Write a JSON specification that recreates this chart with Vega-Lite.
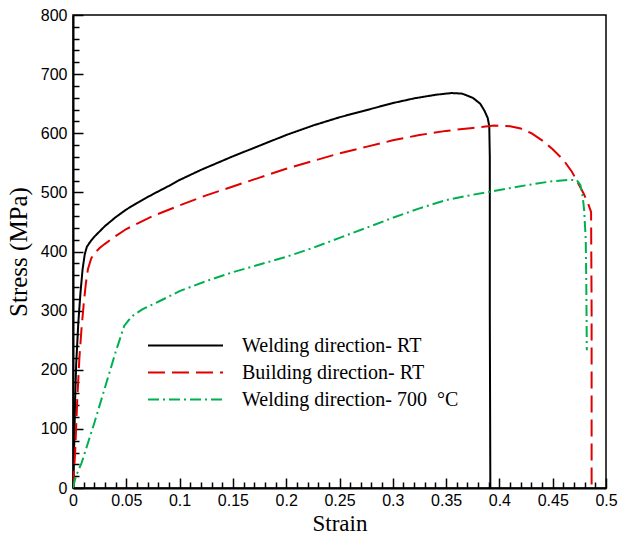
{
  "$schema": "https://vega.github.io/schema/vega-lite/v6.json",
  "width": 533,
  "height": 473,
  "autosize": "none",
  "padding": {"left": 73, "top": 15, "right": 13, "bottom": 52},
  "background": "white",
  "config": {
    "view": {"stroke": "black", "strokeWidth": 1.5},
    "axis": {"grid": false, "domainColor": "black", "domainWidth": 2, "tickColor": "black", "labelColor": "black", "titleColor": "black", "labelFont": "Liberation Sans", "labelFontSize": 16, "titleFont": "Liberation Serif", "titleFontSize": 23, "titleFontWeight": "normal"}
  },
  "data": {"values": [
    {"series": "Welding direction- RT", "strain": 0, "stress": 0},
    {"series": "Welding direction- RT", "strain": 0.001, "stress": 60},
    {"series": "Welding direction- RT", "strain": 0.002, "stress": 150},
    {"series": "Welding direction- RT", "strain": 0.003, "stress": 210},
    {"series": "Welding direction- RT", "strain": 0.005, "stress": 280},
    {"series": "Welding direction- RT", "strain": 0.007, "stress": 330},
    {"series": "Welding direction- RT", "strain": 0.009, "stress": 370},
    {"series": "Welding direction- RT", "strain": 0.011, "stress": 395},
    {"series": "Welding direction- RT", "strain": 0.013, "stress": 408},
    {"series": "Welding direction- RT", "strain": 0.016, "stress": 416},
    {"series": "Welding direction- RT", "strain": 0.02, "stress": 425},
    {"series": "Welding direction- RT", "strain": 0.025, "stress": 434},
    {"series": "Welding direction- RT", "strain": 0.03, "stress": 443},
    {"series": "Welding direction- RT", "strain": 0.04, "stress": 458},
    {"series": "Welding direction- RT", "strain": 0.05, "stress": 471},
    {"series": "Welding direction- RT", "strain": 0.06, "stress": 482},
    {"series": "Welding direction- RT", "strain": 0.075, "stress": 497},
    {"series": "Welding direction- RT", "strain": 0.09, "stress": 511},
    {"series": "Welding direction- RT", "strain": 0.1, "stress": 521},
    {"series": "Welding direction- RT", "strain": 0.12, "stress": 538},
    {"series": "Welding direction- RT", "strain": 0.15, "stress": 561},
    {"series": "Welding direction- RT", "strain": 0.175, "stress": 579},
    {"series": "Welding direction- RT", "strain": 0.2, "stress": 597},
    {"series": "Welding direction- RT", "strain": 0.225, "stress": 613},
    {"series": "Welding direction- RT", "strain": 0.25, "stress": 627},
    {"series": "Welding direction- RT", "strain": 0.275, "stress": 639},
    {"series": "Welding direction- RT", "strain": 0.3, "stress": 651},
    {"series": "Welding direction- RT", "strain": 0.32, "stress": 659},
    {"series": "Welding direction- RT", "strain": 0.34, "stress": 665},
    {"series": "Welding direction- RT", "strain": 0.355, "stress": 668},
    {"series": "Welding direction- RT", "strain": 0.365, "stress": 667},
    {"series": "Welding direction- RT", "strain": 0.375, "stress": 660},
    {"series": "Welding direction- RT", "strain": 0.382, "stress": 650},
    {"series": "Welding direction- RT", "strain": 0.386, "stress": 638},
    {"series": "Welding direction- RT", "strain": 0.389, "stress": 626},
    {"series": "Welding direction- RT", "strain": 0.3905, "stress": 612},
    {"series": "Welding direction- RT", "strain": 0.391, "stress": 560},
    {"series": "Welding direction- RT", "strain": 0.391, "stress": 300},
    {"series": "Welding direction- RT", "strain": 0.3915, "stress": 0},

    {"series": "Building direction- RT", "strain": 0, "stress": 0},
    {"series": "Building direction- RT", "strain": 0.002, "stress": 60},
    {"series": "Building direction- RT", "strain": 0.004, "stress": 150},
    {"series": "Building direction- RT", "strain": 0.006, "stress": 220},
    {"series": "Building direction- RT", "strain": 0.008, "stress": 270},
    {"series": "Building direction- RT", "strain": 0.01, "stress": 310},
    {"series": "Building direction- RT", "strain": 0.012, "stress": 345},
    {"series": "Building direction- RT", "strain": 0.014, "stress": 370},
    {"series": "Building direction- RT", "strain": 0.017, "stress": 388},
    {"series": "Building direction- RT", "strain": 0.02, "stress": 397},
    {"series": "Building direction- RT", "strain": 0.025, "stress": 406},
    {"series": "Building direction- RT", "strain": 0.03, "stress": 413},
    {"series": "Building direction- RT", "strain": 0.04, "stress": 426},
    {"series": "Building direction- RT", "strain": 0.05, "stress": 438},
    {"series": "Building direction- RT", "strain": 0.075, "stress": 460},
    {"series": "Building direction- RT", "strain": 0.1, "stress": 478},
    {"series": "Building direction- RT", "strain": 0.125, "stress": 495},
    {"series": "Building direction- RT", "strain": 0.15, "stress": 510},
    {"series": "Building direction- RT", "strain": 0.175, "stress": 525},
    {"series": "Building direction- RT", "strain": 0.2, "stress": 540},
    {"series": "Building direction- RT", "strain": 0.225, "stress": 553},
    {"series": "Building direction- RT", "strain": 0.25, "stress": 566},
    {"series": "Building direction- RT", "strain": 0.275, "stress": 577},
    {"series": "Building direction- RT", "strain": 0.3, "stress": 588},
    {"series": "Building direction- RT", "strain": 0.325, "stress": 597},
    {"series": "Building direction- RT", "strain": 0.35, "stress": 604},
    {"series": "Building direction- RT", "strain": 0.375, "stress": 609},
    {"series": "Building direction- RT", "strain": 0.395, "stress": 613},
    {"series": "Building direction- RT", "strain": 0.41, "stress": 612},
    {"series": "Building direction- RT", "strain": 0.42, "stress": 608},
    {"series": "Building direction- RT", "strain": 0.43, "stress": 600},
    {"series": "Building direction- RT", "strain": 0.44, "stress": 588},
    {"series": "Building direction- RT", "strain": 0.45, "stress": 573},
    {"series": "Building direction- RT", "strain": 0.46, "stress": 555},
    {"series": "Building direction- RT", "strain": 0.468, "stress": 535},
    {"series": "Building direction- RT", "strain": 0.474, "stress": 515},
    {"series": "Building direction- RT", "strain": 0.479, "stress": 498},
    {"series": "Building direction- RT", "strain": 0.483, "stress": 482},
    {"series": "Building direction- RT", "strain": 0.486, "stress": 467},
    {"series": "Building direction- RT", "strain": 0.4865, "stress": 300},
    {"series": "Building direction- RT", "strain": 0.4865, "stress": 0},

    {"series": "Welding direction- 700\u00a0 °C", "strain": 0, "stress": 0},
    {"series": "Welding direction- 700\u00a0 °C", "strain": 0.002, "stress": 15},
    {"series": "Welding direction- 700\u00a0 °C", "strain": 0.005, "stress": 30},
    {"series": "Welding direction- 700\u00a0 °C", "strain": 0.008, "stress": 42},
    {"series": "Welding direction- 700\u00a0 °C", "strain": 0.02, "stress": 110},
    {"series": "Welding direction- 700\u00a0 °C", "strain": 0.03, "stress": 170},
    {"series": "Welding direction- 700\u00a0 °C", "strain": 0.04, "stress": 230},
    {"series": "Welding direction- 700\u00a0 °C", "strain": 0.048, "stress": 274},
    {"series": "Welding direction- 700\u00a0 °C", "strain": 0.055, "stress": 290},
    {"series": "Welding direction- 700\u00a0 °C", "strain": 0.065, "stress": 302},
    {"series": "Welding direction- 700\u00a0 °C", "strain": 0.08, "stress": 315},
    {"series": "Welding direction- 700\u00a0 °C", "strain": 0.1, "stress": 333},
    {"series": "Welding direction- 700\u00a0 °C", "strain": 0.125, "stress": 350},
    {"series": "Welding direction- 700\u00a0 °C", "strain": 0.15, "stress": 365},
    {"series": "Welding direction- 700\u00a0 °C", "strain": 0.175, "stress": 378},
    {"series": "Welding direction- 700\u00a0 °C", "strain": 0.2, "stress": 391},
    {"series": "Welding direction- 700\u00a0 °C", "strain": 0.225, "stress": 406},
    {"series": "Welding direction- 700\u00a0 °C", "strain": 0.25, "stress": 423},
    {"series": "Welding direction- 700\u00a0 °C", "strain": 0.275, "stress": 440},
    {"series": "Welding direction- 700\u00a0 °C", "strain": 0.3, "stress": 457},
    {"series": "Welding direction- 700\u00a0 °C", "strain": 0.325, "stress": 473},
    {"series": "Welding direction- 700\u00a0 °C", "strain": 0.35, "stress": 487},
    {"series": "Welding direction- 700\u00a0 °C", "strain": 0.375, "stress": 496},
    {"series": "Welding direction- 700\u00a0 °C", "strain": 0.4, "stress": 504},
    {"series": "Welding direction- 700\u00a0 °C", "strain": 0.425, "stress": 512},
    {"series": "Welding direction- 700\u00a0 °C", "strain": 0.45, "stress": 519},
    {"series": "Welding direction- 700\u00a0 °C", "strain": 0.465, "stress": 521},
    {"series": "Welding direction- 700\u00a0 °C", "strain": 0.4725, "stress": 521},
    {"series": "Welding direction- 700\u00a0 °C", "strain": 0.476, "stress": 512},
    {"series": "Welding direction- 700\u00a0 °C", "strain": 0.478, "stress": 495},
    {"series": "Welding direction- 700\u00a0 °C", "strain": 0.4795, "stress": 470},
    {"series": "Welding direction- 700\u00a0 °C", "strain": 0.481, "stress": 420},
    {"series": "Welding direction- 700\u00a0 °C", "strain": 0.4815, "stress": 350},
    {"series": "Welding direction- 700\u00a0 °C", "strain": 0.482, "stress": 233}
  ]},
  "mark": {"type": "line", "strokeWidth": 2, "clip": true},
  "encoding": {
    "x": {
      "field": "strain", "type": "quantitative",
      "scale": {"domain": [0, 0.5], "nice": false, "zero": false},
      "axis": {
        "title": "Strain", "titlePadding": 0,
        "values": [0,0.01,0.02,0.03,0.04,0.05,0.06,0.07,0.08,0.09,0.1,0.11,0.12,0.13,0.14,0.15,0.16,0.17,0.18,0.19,0.2,0.21,0.22,0.23,0.24,0.25,0.26,0.27,0.28,0.29,0.3,0.31,0.32,0.33,0.34,0.35,0.36,0.37,0.38,0.39,0.4,0.41,0.42,0.43,0.44,0.45,0.46,0.47,0.48,0.49,0.5],
        "labelExpr": "abs(datum.value*20 - round(datum.value*20)) < 0.001 ? format(datum.value, '.2~f') : ''",
        "labelOverlap": false, "labelFlush": false,
        "tickSize": {"condition": {"test": "abs(datum.value*20 - round(datum.value*20)) < 0.001", "value": -10}, "value": -6},
        "tickWidth": 1.5,
        "labelPadding": 14
      }
    },
    "y": {
      "field": "stress", "type": "quantitative",
      "scale": {"domain": [0, 800], "nice": false},
      "axis": {
        "title": "Stress (MPa)", "titlePadding": 9, "titleFontSize": 25,
        "values": [0,20,40,60,80,100,120,140,160,180,200,220,240,260,280,300,320,340,360,380,400,420,440,460,480,500,520,540,560,580,600,620,640,660,680,700,720,740,760,780,800],
        "labelExpr": "datum.value % 100 === 0 ? datum.label : ''",
        "labelOverlap": false, "labelFlush": false,
        "tickSize": {"condition": {"test": "datum.value % 100 === 0", "value": -10}, "value": -6},
        "tickWidth": 1.5,
        "labelPadding": 16
      }
    },
    "color": {
      "field": "series", "type": "nominal",
      "scale": {"domain": ["Welding direction- RT", "Building direction- RT", "Welding direction- 700\u00a0 °C"], "range": ["#000000", "#e00000", "#00b050"]},
      "legend": {
        "title": null, "orient": "none", "legendX": 74, "legendY": 319,
        "symbolType": "stroke", "symbolSize": 5625, "symbolStrokeWidth": 2, "clipHeight": 23,
        "labelFont": "Liberation Serif", "labelFontSize": 20, "labelColor": "black", "labelOffset": 18, "labelLimit": 0, "rowPadding": 4
      }
    },
    "strokeDash": {
      "field": "series", "type": "nominal",
      "scale": {"domain": ["Welding direction- RT", "Building direction- RT", "Welding direction- 700\u00a0 °C"], "range": [[1, 0], [17, 7], [11, 4, 2, 4]]},
      "legend": {
        "title": null, "orient": "none", "legendX": 74, "legendY": 319,
        "symbolType": "stroke", "symbolSize": 5625, "symbolStrokeWidth": 2, "clipHeight": 23,
        "labelFont": "Liberation Serif", "labelFontSize": 20, "labelColor": "black", "labelOffset": 18, "labelLimit": 0, "rowPadding": 4
      }
    },
    "strokeWidth": {
      "field": "series", "type": "nominal",
      "scale": {"domain": ["Welding direction- RT", "Building direction- RT", "Welding direction- 700\u00a0 °C"], "range": [2, 2, 1.6]},
      "legend": null
    }
  }
}
